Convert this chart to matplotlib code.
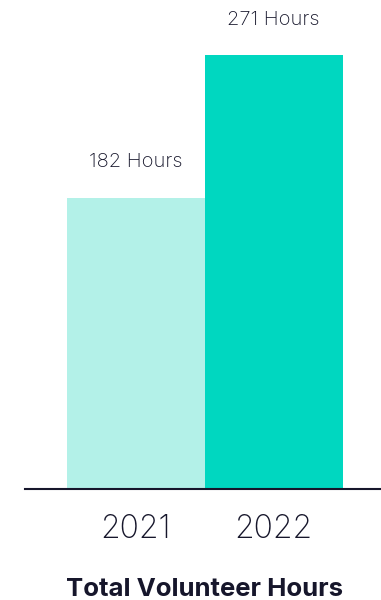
import matplotlib
matplotlib.use("Agg")
import matplotlib.pyplot as plt

years = ["2021", "2022"]
hours = [182, 271]
bar_colors = ["#b3f1e8", "#00d7c0"]
title = "Total Volunteer Hours"

ink = "#16162b"
W, H, DPI = 381, 600, 100

fig = plt.figure(figsize=(W / DPI, H / DPI), dpi=DPI)
fig.patch.set_facecolor("white")

# axes spans from the baseline (y=489 px) to the top, and from x=25 px to the right edge
ax = fig.add_axes([25 / W, 111 / H, 356 / W, 489 / H])
x = list(range(len(years)))
ax.bar(x, hours, width=1.0, color=bar_colors, align="center", zorder=2)

px_per_unit = 434 / 271
ax.set_ylim(0, 489 / px_per_unit)
ax.set_xlim(-(135.5 - 25) / 138, 1 + (381 - 273.5) / 138)

for s in ["top", "right", "left"]:
    ax.spines[s].set_visible(False)
ax.spines["bottom"].set_color(ink)
ax.spines["bottom"].set_linewidth(1.5)
ax.set_yticks([])
ax.set_xticks(x)
ax.set_xticklabels(years, fontsize=23, color=ink, family="Inter", fontweight="light")
ax.tick_params(axis="x", length=0, pad=18)

for xi, v in zip(x, hours):
    ax.annotate(f"{v} Hours", (xi, v), xytext=(0, 19), textcoords="offset points",
                ha="center", va="bottom", fontsize=14.5, color=ink,
                family="Inter", fontweight="light")

fig.text(204.5 / W, 1 - 589 / H, title, ha="center", va="center",
         fontsize=18.5, fontweight="bold", color=ink, family="Inter")

fig.savefig("out.png", dpi=DPI, facecolor="white")
